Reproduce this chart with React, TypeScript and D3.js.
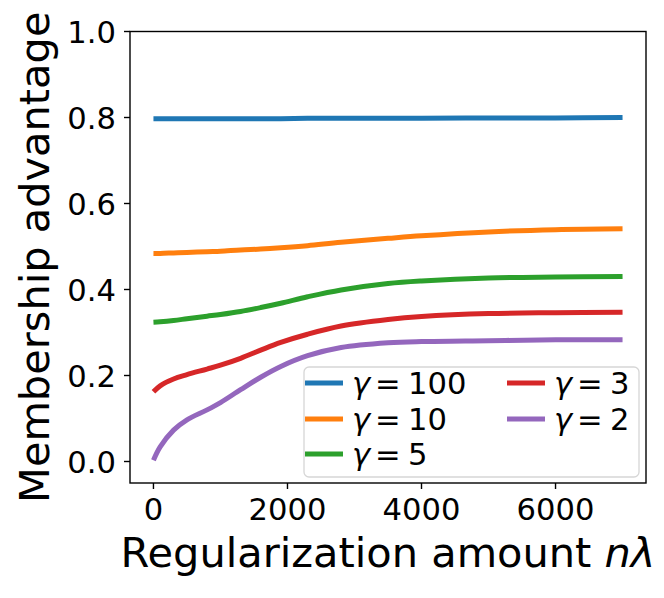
import React from "react";
import * as d3 from "d3";

const xs = [0, 100, 300, 500, 800, 1000, 1300, 1600, 1900, 2300, 2800, 3500, 4000, 5000, 6000, 7000];
const gamma100 = [0.797, 0.797, 0.797, 0.797, 0.797, 0.797, 0.797, 0.797, 0.797, 0.798, 0.798, 0.798, 0.798, 0.799, 0.799, 0.8];
const gamma10 = [0.484, 0.484, 0.485, 0.486, 0.488, 0.489, 0.492, 0.494, 0.497, 0.502, 0.51, 0.519, 0.525, 0.534, 0.539, 0.541];
const gamma5 = [0.324, 0.325, 0.328, 0.332, 0.338, 0.342, 0.349, 0.358, 0.368, 0.383, 0.399, 0.414, 0.42, 0.427, 0.429, 0.43];
const gamma3 = [0.162, 0.176, 0.192, 0.202, 0.215, 0.224, 0.24, 0.259, 0.277, 0.296, 0.315, 0.33, 0.337, 0.344, 0.346, 0.347];
const gamma2 = [0.003, 0.034, 0.073, 0.097, 0.12, 0.137, 0.167, 0.196, 0.221, 0.246, 0.265, 0.276, 0.279, 0.281, 0.283, 0.283];

const seriesNames = ["100", "10", "5", "3", "2"];
const seriesValues = [gamma100, gamma10, gamma5, gamma3, gamma2];
const colors = ["#1f77b4", "#ff7f0e", "#2ca02c", "#d62728", "#9467bd"];

const xTicks = [0, 2000, 4000, 6000];
const yTicks = [0.0, 0.2, 0.4, 0.6, 0.8, 1.0];

const W = 664;
const H = 598;
const L = 130, R = 646, T = 31.5, B = 483;

export default function App() {
  const x = d3.scaleLinear().domain([-350, 7350]).range([L, R]);
  const y = d3.scaleLinear().domain([-0.05, 1.0]).range([B, T]);
  const line = d3
    .line<number>()
    .x((_, i) => x(xs[i]))
    .y((d) => y(d))
    .curve(d3.curveCatmullRom.alpha(0.5));

  const font = "'DejaVu Sans', sans-serif";
  const fs = 30.6;
  const lw = 5;

  // legend layout
  const lgX = 304, lgY = 367, lgW = 335, lgH = 110;
  const rowY = [383, 419, 454];
  const colX = [305, 507];
  const legendItems = seriesNames.map((n, i) => {
    const col = i < 3 ? 0 : 1;
    const row = i < 3 ? i : i - 3;
    return { n, i, col, row };
  });

  return (
    <svg
      width={W}
      height={H}
      style={{ position: "absolute", left: 0, top: 0, background: "#fff" }}
      fontFamily={font}
    >
      <rect x={0} y={0} width={W} height={H} fill="#fff" />
      <defs>
        <clipPath id="plot">
          <rect x={L} y={T} width={R - L} height={B - T} />
        </clipPath>
      </defs>
      <g clipPath="url(#plot)">
        {seriesValues.map((vals, i) => (
          <path
            key={i}
            d={line(vals) || ""}
            fill="none"
            stroke={colors[i]}
            strokeWidth={lw}
            strokeLinecap="butt"
          />
        ))}
      </g>
      {/* legend */}
      <rect
        x={lgX}
        y={lgY}
        width={lgW}
        height={lgH}
        rx={5}
        ry={5}
        fill="#fff"
        fillOpacity={0.8}
        stroke="#d6d6d6"
        strokeWidth={1.3}
      />
      {legendItems.map(({ n, i, col, row }) => {
        const tx = colX[col] + 47;
        return (
          <g key={n}>
            <line
              x1={colX[col]}
              x2={colX[col] + 38}
              y1={rowY[row]}
              y2={rowY[row]}
              stroke={colors[i]}
              strokeWidth={lw}
            />
            <text x={tx} y={rowY[row]} dy="0.36em" fontSize={fs} fontStyle="italic">
              γ
            </text>
            <text x={tx + 23} y={rowY[row]} dy="0.36em" fontSize={fs}>
              =
            </text>
            <text x={tx + 56} y={rowY[row]} dy="0.36em" fontSize={fs}>
              {n}
            </text>
          </g>
        );
      })}
      {/* axes frame */}
      <rect x={L} y={T} width={R - L} height={B - T} fill="none" stroke="#000" strokeWidth={1.4} />
      {yTicks.map((t) => (
        <g key={t}>
          <line x1={L - 6} x2={L} y1={y(t)} y2={y(t)} stroke="#000" strokeWidth={1.4} />
          <text x={116} y={y(t)} dy="0.36em" textAnchor="end" fontSize={fs}>
            {t.toFixed(1)}
          </text>
        </g>
      ))}
      {xTicks.map((t) => (
        <g key={t}>
          <line x1={x(t)} x2={x(t)} y1={B} y2={B + 6} stroke="#000" strokeWidth={1.4} />
          <text x={x(t)} y={520} textAnchor="middle" fontSize={fs}>
            {t}
          </text>
        </g>
      ))}
      <text x={(L + R) / 2} y={567} textAnchor="middle" fontSize={41.5}>
        Regularization amount <tspan fontStyle="italic">nλ</tspan>
      </text>
      <text
        transform={`translate(49, ${(T + B) / 2}) rotate(-90)`}
        textAnchor="middle"
        fontSize={41.5}
      >
        Membership advantage
      </text>
    </svg>
  );
}
